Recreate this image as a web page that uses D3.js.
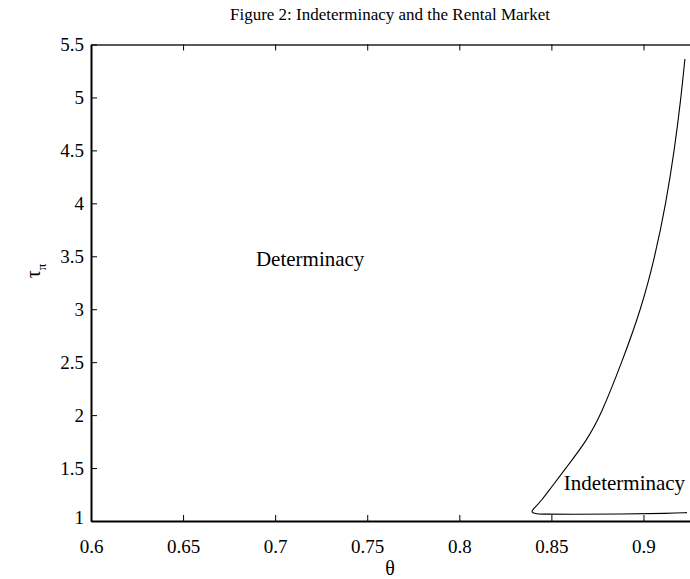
<!DOCTYPE html>
<html><head><meta charset="utf-8">
<script src="https://cdn.jsdelivr.net/npm/d3@7"></script>
<style>body{margin:0;background:#fff}svg text{font-family:"Liberation Serif","Times New Roman",serif;fill:#000}</style>
</head><body>
<script>
const title = "Figure 2: Indeterminacy and the Rental Market";
const xTicks = [0.6, 0.65, 0.7, 0.75, 0.8, 0.85, 0.9];
const yTicks = [1, 1.5, 2, 2.5, 3, 3.5, 4, 4.5, 5, 5.5];
const theta = [0.9225, 0.9225, 0.9204, 0.9168, 0.9122, 0.9063, 0.8987, 0.8883, 0.8769, 0.8688, 0.8579, 0.8492, 0.8449, 0.8420, 0.8400, 0.8393, 0.8398, 0.8418, 0.8460, 0.8601, 0.8872, 0.9144, 0.9236, 0.9236];
const tau   = [5.363, 5.363, 5.0, 4.5, 4.0, 3.5, 3.0, 2.5, 2.0, 1.75, 1.5, 1.3, 1.2, 1.145, 1.11, 1.09, 1.076, 1.068, 1.064, 1.063, 1.066, 1.072, 1.079, 1.079];
const regionLabels = [{text:"Determinacy", x:0.719, y:3.45}, {text:"Indeterminacy", x:0.8897, y:1.34}];

const W = 690, H = 579;
const svg = d3.select("body").append("svg").attr("width", W).attr("height", H);
const x = d3.scaleLinear().domain([0.6, 0.925]).range([91, 689.5]);
const y = d3.scaleLinear().domain([1, 5.5]).range([521, 44.5]);

const fsTick = 19, fsLab = 20, fsTitle = 17;
const gBottom = svg.append("g").attr("transform", `translate(0,${y(1)})`)
  .call(d3.axisBottom(x).tickValues(xTicks).tickSizeInner(-6).tickSizeOuter(0).tickPadding(19).tickFormat(d3.format("")));
const gTop = svg.append("g").attr("transform", `translate(0,${y(5.5)})`)
  .call(d3.axisTop(x).tickValues(xTicks).tickSizeInner(-6).tickSizeOuter(0).tickFormat(""));
const gLeft = svg.append("g").attr("transform", `translate(${x(0.6)},0)`)
  .call(d3.axisLeft(y).tickValues(yTicks).tickSizeInner(-6).tickSizeOuter(0).tickPadding(7).tickFormat(d3.format("")));
[gBottom, gTop, gLeft].forEach(g => {
  g.selectAll("path.domain").attr("stroke", "#000").attr("stroke-width", 2);
  g.selectAll(".tick line").attr("stroke", "#000").attr("stroke-width", 1);
  g.selectAll("text").attr("font-size", fsTick).attr("font-family", "Liberation Serif");
});
gTop.select("path.domain").attr("stroke", "#222").attr("stroke-width", 1.5);
gLeft.selectAll(".tick text").filter(d => d === 1).attr("dy", "0.15em");

const pts = theta.map((t, i) => [t, tau[i]]);
svg.append("path").datum(pts)
  .attr("fill", "none").attr("stroke", "#000").attr("stroke-width", 1.1)
  .attr("d", d3.line().x(d => x(d[0])).y(d => y(d[1])).curve(d3.curveBasis));

svg.selectAll("text.region").data(regionLabels).enter().append("text")
  .attr("class", "region").attr("x", d => x(d.x)).attr("y", d => y(d.y))
  .attr("text-anchor", "middle").attr("dominant-baseline", "middle")
  .attr("font-size", 21).text(d => d.text);

svg.append("text").attr("x", 390).attr("y", 20).attr("text-anchor", "middle")
  .attr("font-size", fsTitle).text(title);
svg.append("text").attr("x", 390).attr("y", 575).attr("text-anchor", "middle")
  .attr("font-size", fsLab).text("θ");
const yl = svg.append("text").attr("transform", "translate(40,271) rotate(-90)")
  .attr("text-anchor", "middle").attr("font-size", fsLab);
yl.append("tspan").text("τ");
yl.append("tspan").attr("font-size", 13).attr("dy", 6).text("π");
</script>
</body></html>
